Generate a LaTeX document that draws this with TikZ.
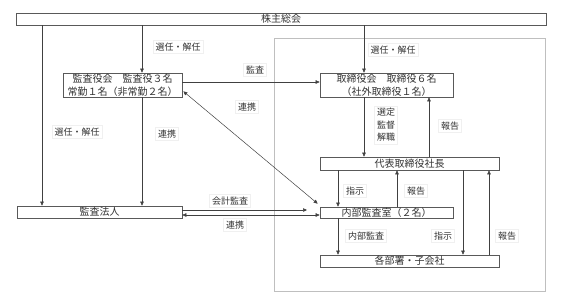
\documentclass[tikz,border=0pt]{standalone}
\usepackage{fontspec}
\newfontfamily\jp{Noto Sans CJK JP}
\usetikzlibrary{arrows.meta}
\begin{document}
\begin{tikzpicture}[x=1pt,y=-1pt,
  box/.style={draw=black!65, line width=0.6pt, fill=white, inner sep=0pt,
    font=\jp\fontsize{10}{13}\selectfont, text=black!80, align=center},
  lbl/.style={fill=white, draw=black!6, inner sep=2.5pt,
    font=\jp\fontsize{9}{12.5}\selectfont, text=black!80, align=center},
  ln/.style={draw=black!75, line width=0.5pt},
  arr/.style={ln, -{Triangle[length=4pt,width=3.5pt]}},
  darr/.style={ln, {Triangle[length=4pt,width=3.5pt]}-{Triangle[length=4pt,width=3.5pt]}}]
\useasboundingbox (0,0) rectangle (567,303);
\draw[black!25, line width=0.6pt] (274,38) rectangle (545,291);

\node[box, minimum width=530pt, minimum height=12pt] (kabu) at (281,19) {株主総会};
\node[box, minimum width=119pt, minimum height=24pt] (kansa) at (122.5,85) {監査役会　監査役３名\\常勤１名（非常勤２名）};
\node[box, minimum width=133pt, minimum height=24pt] (tori) at (386.5,85) {取締役会　取締役６名\\（社外取締役１名）};
\node[box, minimum width=179pt, minimum height=13pt] (daihyo) at (409.5,163.5) {代表取締役社長};
\node[box, minimum width=133pt, minimum height=11pt] (naibu) at (386.5,212.5) {内部監査室（２名）};
\node[box, minimum width=179pt, minimum height=12pt] (kakubu) at (409.5,261) {各部署・子会社};
\node[box, minimum width=165pt, minimum height=12pt] (houjin) at (99.5,212) {監査法人};
\coordinate (kaikei) at (307,210);

\draw[arr] (kabu.south -| 42,0) -- (houjin.north -| 42,0);
\draw[arr] (kabu.south -| 142,0) -- (kansa.north -| 142,0);
\draw[arr] (kansa.south -| 142,0) -- (houjin.north -| 142,0);
\draw[arr] (kabu.south -| 364,0) -- (tori.north -| 364,0);
\draw[arr] (kansa.east |- 0,82) -- (tori.west |- 0,82);
\draw[darr] ([shift={(1,-6)}]kansa.south east) -- ([shift={(-2,-3)}]naibu.north west);
\draw[arr] (tori.south -| 364,0) -- (daihyo.north -| 364,0);
\draw[arr] (daihyo.north -| 429,0) -- (tori.south -| 429,0);
\draw[arr] (daihyo.south -| 338,0) -- (naibu.north -| 338,0);
\draw[arr] (naibu.north -| 397,0) -- (daihyo.south -| 397,0);
\draw[arr] (naibu.south -| 338,0) -- (kakubu.north -| 338,0);
\draw[arr] (daihyo.south -| 463,0) -- (kakubu.north -| 463,0);
\draw[arr] (kakubu.north -| 489,0) -- (daihyo.south -| 489,0);
\draw[arr] (houjin.east |- 0,210) -- (kaikei);
\draw[darr] (houjin.east |- 0,215) -- (naibu.west |- 0,215);

\node[lbl] (l1) at (178,47) {選任・解任};
\node[lbl] (l2) at (393,50) {選任・解任};
\node[lbl] (l3) at (255,70) {監査};
\node[lbl] (l4) at (247,107) {連携};
\node[lbl] (l5) at (77,132) {選任・解任};
\node[lbl] (l6) at (167,134) {連携};
\node[lbl] (l7) at (386,125) {選定\\監督\\解職};
\node[lbl] (l8) at (450,126) {報告};
\node[lbl] (l9) at (355,191) {指示};
\node[lbl] (l10) at (416,191) {報告};
\node[lbl] (l11) at (230,201) {会計監査};
\node[lbl] (l12) at (235,225) {連携};
\node[lbl] (l13) at (366,236) {内部監査};
\node[lbl] (l14) at (443,236) {指示};
\node[lbl] (l15) at (507,236) {報告};
\end{tikzpicture}
\end{document}
